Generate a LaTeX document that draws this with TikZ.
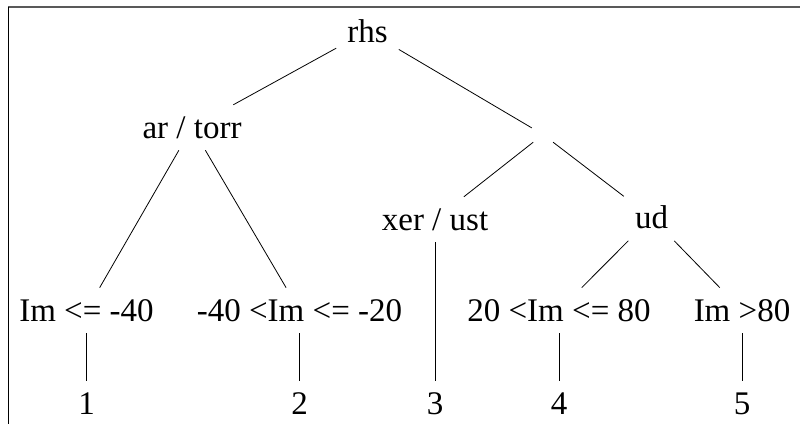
\documentclass[tikz,border=0pt]{standalone}
\usepackage{fontspec}
\setmainfont{Liberation Serif}
\begin{document}
\begin{tikzpicture}[x=1pt,y=-1pt,
  every node/.style={font=\fontsize{33}{39}\selectfont, inner xsep=11pt, inner ysep=11.5pt},
  lbl/.style={},
  hidden/.style={inner sep=0pt, minimum width=22pt, minimum height=15pt},
  edge/.style={draw=black, line width=0.8pt}]
\useasboundingbox (0,0) rectangle (800,423);
% frame (cropped box)
\draw[gray!70!black, line width=1.6pt] (8,7) -- (801,7);
\draw[black, line width=0.9pt] (8,7) -- (8,424);
% nodes
\node[lbl] (rhs) at (367.5,31) {rhs};
\node[lbl] (art) at (192,127.5) {ar / torr};
\node[hidden] (mid) at (543,134.5) {};
\node[lbl] (xer) at (435,219.5) {xer / ust};
\node[lbl] (ud) at (651.5,217.5) {ud};
\node[lbl] (l1) at (86.5,310.5) {Im <= -40};
\node[lbl] (l2) at (299.5,310.5) {-40 <Im <= -20};
\node[lbl] (l4) at (559,310.5) {20 <Im <= 80};
\node[lbl] (l5) at (742,310.5) {Im >80};
\node[lbl] (n1) at (86.5,404) {1};
\node[lbl] (n2) at (299.5,404) {2};
\node[lbl] (n3) at (435,404) {3};
\node[lbl] (n4) at (559,404) {4};
\node[lbl] (n5) at (742,404) {5};
% edges
\draw[edge] (rhs) -- (art);
\draw[edge] (rhs) -- (mid);
\draw[edge] (art) -- (l1);
\draw[edge] (art) -- (l2);
\draw[edge] (mid) -- (xer);
\draw[edge] (mid) -- (ud);
\draw[edge] (ud) -- (l4);
\draw[edge] (ud) -- (l5);
\draw[edge] (l1) -- (n1);
\draw[edge] (l2) -- (n2);
\draw[edge] (xer) -- (n3);
\draw[edge] (l4) -- (n4);
\draw[edge] (l5) -- (n5);
\end{tikzpicture}
\end{document}
